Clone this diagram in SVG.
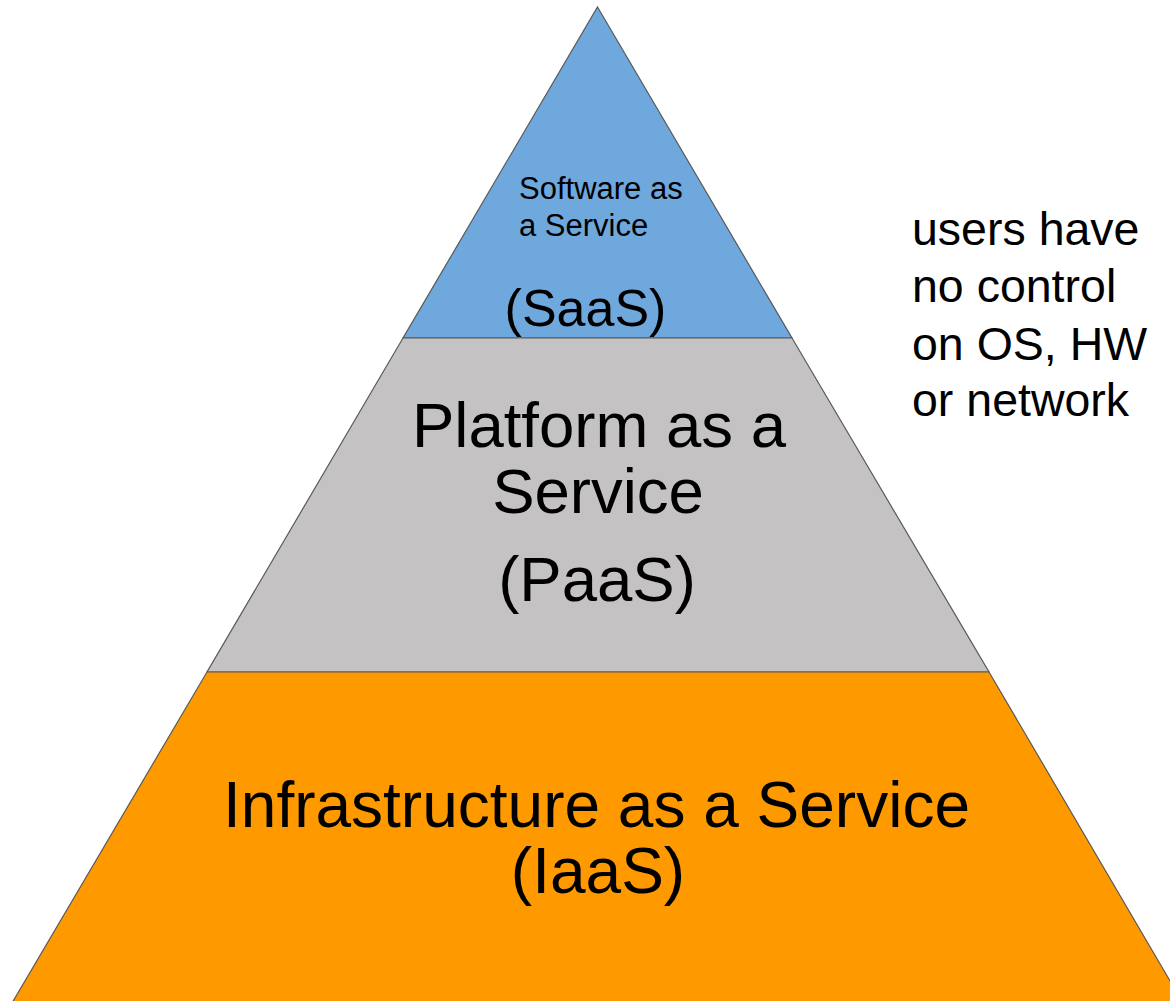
<svg xmlns="http://www.w3.org/2000/svg" width="1170" height="1001" viewBox="0 0 1170 1001">
  <style>
    .tier { stroke: #595959; stroke-width: 1.2; stroke-linejoin: miter; }
    .lbl { font-family: "Liberation Sans", Arial, sans-serif; fill: #000000; }
    .mid { text-anchor: middle; }
  </style>
  <rect x="0" y="0" width="1170" height="1001" fill="#ffffff"/>

  <!-- Top tier: SaaS -->
  <g id="saas">
    <polygon class="tier" fill="#6fa8dc" points="597.5,7 792,338 403,338"/>
    <text class="lbl" font-size="31" x="519" y="199">Software as</text>
    <text class="lbl" font-size="31" x="519" y="236">a Service</text>
    <text class="lbl mid" font-size="52" x="585.5" y="326">(SaaS)</text>
  </g>

  <!-- Middle tier: PaaS -->
  <g id="paas">
    <polygon class="tier" fill="#c4c2c3" points="403,338 792,338 989,672 207,672"/>
    <text class="lbl mid" font-size="63.5" x="599" y="447">Platform as a</text>
    <text class="lbl mid" font-size="63.5" x="598" y="513">Service</text>
    <text class="lbl mid" font-size="63.5" x="597" y="601">(PaaS)</text>
  </g>

  <!-- Bottom tier: IaaS -->
  <g id="iaas">
    <polygon class="tier" fill="#ff9900" points="207,672 989,672 1183,1003 12,1003"/>
    <text class="lbl mid" font-size="64" x="596.5" y="827">Infrastructure as a Service</text>
    <text class="lbl mid" font-size="64" x="598" y="893">(IaaS)</text>
  </g>

  <!-- Side note -->
  <g id="note">
    <text class="lbl" font-size="46.5" x="912" y="245">users have</text>
    <text class="lbl" font-size="46.5" x="912" y="302">no control</text>
    <text class="lbl" font-size="46.5" x="912" y="360">on OS, HW</text>
    <text class="lbl" font-size="46.5" x="912" y="416">or network</text>
  </g>

  <g id="connectors"/>
</svg>
